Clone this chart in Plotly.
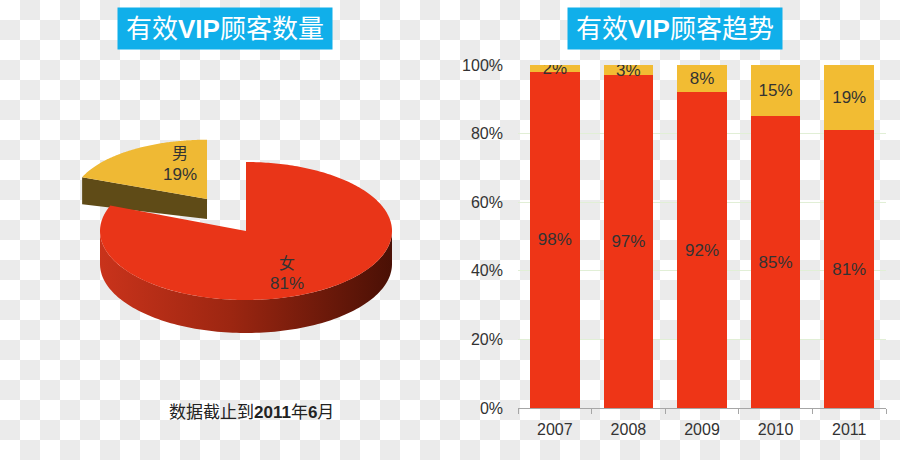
import numpy as np
import plotly.graph_objects as go

# ---------------- data ----------------
years = ["2007", "2008", "2009", "2010", "2011"]
female_share = [98, 97, 92, 85, 81]
male_share = [2, 3, 8, 15, 19]

pie_labels = ["男", "女"]
pie_values = [19, 81]

y_ticks = [0, 20, 40, 60, 80, 100]
y_ticklabels = ["0%", "20%", "40%", "60%", "80%", "100%"]

W, H = 900, 460


def pxx(x):
    return x / W


def pyy(y):
    return 1 - y / H


fig = go.Figure()

# ---------------- 3D-looking pie (left) ----------------
CX, CY, A, B, DEPTH = 246, 231, 146, 69, 33
EXPLODE_X, EXPLODE_Y = 0.475, 0.56      # offset of the pulled-out slice
FAR_SX, FAR_SY = 0.92, 0.86            # perspective shrink of the far slice
total = float(sum(pie_values))
frac_m = pie_values[0] / total
a0 = 90.0
a1 = a0 + 360.0 * frac_m       # end of male slice (counter-clockwise)
a2 = a0 + 360.0                # end of female slice

mid_m = np.radians((a0 + a1) / 2)
dx = EXPLODE_X * A * np.cos(mid_m)
dy = -EXPLODE_Y * B * np.sin(mid_m)


def arc(t0, t1, ox=0.0, oy=0.0, sx=1.0, sy=1.0, n=120):
    t = np.radians(np.linspace(t0, t1, n))
    return CX + ox + sx * A * np.cos(t), CY + oy - sy * B * np.sin(t)


# male slice (exploded) : cut face then top face
ex, ey = arc(a1, a1, dx, dy, FAR_SX, FAR_SY, 1)
fig.add_trace(go.Scatter(
    x=[CX + dx, ex[0], ex[0], CX + dx],
    y=[CY + dy, ey[0], ey[0] + 27, CY + dy + 20],
    fill="toself", mode="none", fillcolor="#5f4b17",
    xaxis="x2", yaxis="y2", hoverinfo="skip", showlegend=False))
mx, my = arc(a0, a1, dx, dy, FAR_SX, FAR_SY)
fig.add_trace(go.Scatter(
    x=np.concatenate([[CX + dx], mx, [CX + dx]]),
    y=np.concatenate([[CY + dy], my, [CY + dy]]),
    fill="toself", mode="none", fillcolor="#efb934",
    xaxis="x2", yaxis="y2", hoverinfo="skip", showlegend=False))

# female slice : front wall with gradient, then top face
lo, hi = max(a1, 180.0), min(a2, 360.0)
sxx, syy = arc(lo, hi)
fig.add_trace(go.Scatter(
    x=np.concatenate([sxx, sxx[::-1]]),
    y=np.concatenate([syy, (syy + DEPTH)[::-1]]),
    fill="toself", mode="none",
    fillgradient=dict(type="horizontal",
                      colorscale=[[0, "#c9331b"], [0.45, "#9c2611"], [1, "#4a1005"]]),
    xaxis="x2", yaxis="y2", hoverinfo="skip", showlegend=False))
fx, fy = arc(a1, a2, n=300)
fig.add_trace(go.Scatter(
    x=np.concatenate([[CX], fx, [CX]]),
    y=np.concatenate([[CY], fy, [CY]]),
    fill="toself", mode="none", fillcolor="#e93518",
    xaxis="x2", yaxis="y2", hoverinfo="skip", showlegend=False))

# ---------------- stacked 100% bars (right) ----------------
fig.add_trace(go.Bar(
    x=years, y=female_share, name="女",
    marker=dict(color="#ee3517", line=dict(width=0)),
    text=[f"{v}%" for v in female_share], textposition="inside",
    insidetextanchor="middle", textangle=0,
    textfont=dict(size=17, color="#333333"),
    xaxis="x", yaxis="y", hoverinfo="skip", showlegend=False))
fig.add_trace(go.Bar(
    x=years, y=male_share, name="男",
    marker=dict(color="#f2bc33", line=dict(width=0)),
    text=[f"{v}%" for v in male_share], textposition="inside",
    insidetextanchor="middle", textangle=0,
    textfont=dict(size=17, color="#333333"),
    xaxis="x", yaxis="y", hoverinfo="skip", showlegend=False))

# ---------------- checkerboard background ----------------
parts = []
for r in range(H // 20 + 1):
    for c in range(W // 20):
        if (r + c) % 2 == 1:
            x0, x1 = c * 20 / W, (c + 1) * 20 / W
            y0, y1 = 1 - r * 20 / H, max(0.0, 1 - (r + 1) * 20 / H)
            parts.append(f"M{x0:.5f},{y0:.5f}H{x1:.5f}V{y1:.5f}H{x0:.5f}Z")
shapes = [dict(type="path", xref="paper", yref="paper", path="".join(parts),
               fillcolor="#ebebeb", line=dict(width=0), layer="below")]

FONT = "Liberation Sans, Arial, Noto Sans CJK SC, sans-serif"
TFONT = "Liberation Sans, Noto Sans CJK SC, sans-serif"


def ann(text, x, y, font, **kw):
    d = dict(text=text, x=pxx(x), y=pyy(y), xref="paper", yref="paper",
             showarrow=False, xanchor="center", yanchor="middle", font=font)
    d.update(kw)
    return d


annotations = [
    ann("有效<b>VIP</b>顾客数量", 225, 28.5, dict(family=TFONT, size=26, color="white"),
        bgcolor="#10afea", width=212, height=39, borderpad=1),
    ann("有效<b>VIP</b>顾客趋势", 674.5, 28.5, dict(family=TFONT, size=26, color="white"),
        bgcolor="#10afea", width=212, height=39, borderpad=1),
    ann("数据截止到<b>2011</b>年<b>6</b>月", 251, 412, dict(family=TFONT, size=17, color="#222222")),
    ann(pie_labels[0], 180, 152, dict(family="Noto Sans CJK SC", size=16, color="#333333")),
    ann(f"{pie_values[0]}%", 180, 174, dict(family=FONT, size=17, color="#333333")),
    ann(pie_labels[1], 287, 262, dict(family="Noto Sans CJK SC", size=16, color="#333333")),
    ann(f"{pie_values[1]}%", 287, 283, dict(family=FONT, size=17, color="#333333")),
]

fig.update_layout(
    width=W, height=H, margin=dict(l=0, r=0, t=0, b=0, pad=0),
    paper_bgcolor="white", plot_bgcolor="rgba(0,0,0,0)",
    barmode="stack", bargap=0.325,
    font=dict(family=FONT, size=16, color="#333333"),
    uniformtext=dict(minsize=17, mode="show"),
    shapes=shapes, annotations=annotations, showlegend=False,
    xaxis=dict(domain=[pxx(518), pxx(886)], anchor="y", type="category",
               showline=True, linecolor="#a6a6a6", linewidth=1,
               ticks="outside", tickson="boundaries", ticklen=5, tickcolor="#a6a6a6",
               ticklabelstandoff=7,
               tickfont=dict(size=16, color="#333333"), showgrid=False,
               automargin=False, fixedrange=True),
    yaxis=dict(domain=[pyy(408), pyy(65)], anchor="x", range=[0, 100],
               tickmode="array", tickvals=y_ticks, ticktext=y_ticklabels,
               showgrid=True, gridcolor="#e1efd6", gridwidth=1,
               zeroline=False, showline=False, ticks="", ticklabelstandoff=14,
               tickfont=dict(size=16, color="#333333"),
               automargin=False, fixedrange=True),
    xaxis2=dict(domain=[0, 0.5], anchor="y2", range=[0, 450], visible=False,
                automargin=False, fixedrange=True),
    yaxis2=dict(domain=[0, 1], anchor="x2", range=[460, 0], visible=False,
                automargin=False, fixedrange=True),
)

fig.write_html("out.html", config={"displayModeBar": False},
               post_script="document.body.style.margin='0';document.body.style.overflow='hidden';")
